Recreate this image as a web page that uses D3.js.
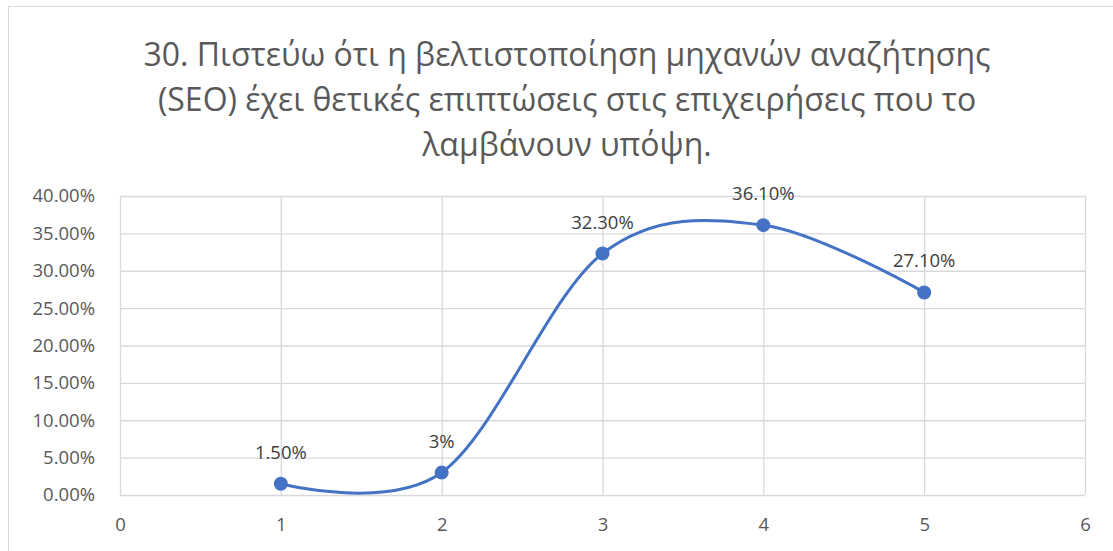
<!DOCTYPE html>
<html lang="el">
<head>
    <meta charset="utf-8">
    <title>SEO chart</title>
    <script src="https://d3js.org/d3.v7.min.js"></script>
    <style type="text/css">
        body { margin: 0; background: #fff; }
        text { font-family: "Open Sans", "Noto Sans", sans-serif; }
    </style>
</head>
<body>
    <div id="chart"></div>
    <script>
        // data
        var titleLines = ["30. Πιστεύω ότι η βελτιστοποίηση μηχανών αναζήτησης",
            "(SEO) έχει θετικές επιπτώσεις στις επιχειρήσεις που το",
            "λαμβάνουν υπόψη."];
        var xValues = [1, 2, 3, 4, 5];
        var yValues = [0.015, 0.03, 0.323, 0.361, 0.271];
        var pointLabels = ["1.50%", "3%", "32.30%", "36.10%", "27.10%"];
        var yTicks = [0, 0.05, 0.10, 0.15, 0.20, 0.25, 0.30, 0.35, 0.40];
        var xTicks = [0, 1, 2, 3, 4, 5, 6];

        var width = 1113, height = 551;
        var margin = { top: 196, right: 28, bottom: 56, left: 120 };

        var svg = d3.select("#chart")
            .append("svg")
            .attr("width", width)
            .attr("height", height);

        // chart frame (cut off on right and bottom)
        svg.append("rect")
            .attr("x", 8.5).attr("y", 6.5)
            .attr("width", 1200).attr("height", 600)
            .attr("fill", "#fff")
            .attr("stroke", "#d9d9d9");

        // title
        svg.append("g").selectAll("text")
            .data(titleLines)
            .enter()
            .append("text")
            .attr("x", 567)
            .attr("y", function (d, i) { return 66 + 45 * i; })
            .attr("text-anchor", "middle")
            .attr("font-size", 32)
            .attr("fill", "#595959")
            .text(function (d) { return d; });

        var x = d3.scaleLinear().domain([0, 6]).range([margin.left, width - margin.right]);
        var y = d3.scaleLinear().domain([0, 0.4]).range([height - margin.bottom, margin.top]);

        // gridlines
        svg.append("g")
            .attr("transform", "translate(" + margin.left + ",0)")
            .call(d3.axisLeft(y).tickValues(yTicks).tickSize(-(x(6) - x(0))).tickFormat(""))
            .call(function (g) { g.select(".domain").remove(); })
            .selectAll("line").attr("stroke", "#d9d9d9").attr("stroke-width", 1.3);

        svg.append("g")
            .attr("transform", "translate(0," + y(0) + ")")
            .call(d3.axisBottom(x).tickValues(xTicks).tickSize(-(y(0) - y(0.4))).tickFormat(""))
            .call(function (g) { g.select(".domain").remove(); })
            .selectAll("line").attr("stroke", "#d9d9d9").attr("stroke-width", 1.3);

        // tick labels
        var yAxis = svg.append("g")
            .attr("transform", "translate(" + (margin.left - 22) + ",0)")
            .call(d3.axisLeft(y).tickValues(yTicks).tickSize(0).tickFormat(d3.format(".2%")));
        yAxis.select(".domain").remove();
        yAxis.selectAll("text").attr("font-size", 18.5).attr("fill", "#595959")
            .style("font-family", "'Open Sans', sans-serif");

        var xAxis = svg.append("g")
            .attr("transform", "translate(0," + (y(0) + 20) + ")")
            .call(d3.axisBottom(x).tickValues(xTicks).tickSize(0).tickFormat(d3.format("d")));
        xAxis.select(".domain").remove();
        xAxis.selectAll("text").attr("font-size", 18.5).attr("fill", "#595959")
            .style("font-family", "'Open Sans', sans-serif");

        // smooth line
        var points = xValues.map(function (d, i) { return [d, yValues[i]]; });
        var line = d3.line()
            .x(function (d) { return x(d[0]); })
            .y(function (d) { return y(d[1]); })
            .curve(d3.curveCardinal.tension(0));

        svg.append("path")
            .datum(points)
            .attr("d", line)
            .attr("fill", "none")
            .attr("stroke", "#4472c4")
            .attr("stroke-width", 3)
            .attr("stroke-linecap", "round");

        svg.selectAll("circle.pt")
            .data(points)
            .enter()
            .append("circle")
            .attr("class", "pt")
            .attr("cx", function (d) { return x(d[0]); })
            .attr("cy", function (d) { return y(d[1]); })
            .attr("r", 7)
            .attr("fill", "#4472c4");

        // data labels
        svg.selectAll("text.lbl")
            .data(points)
            .enter()
            .append("text")
            .attr("class", "lbl")
            .attr("x", function (d) { return x(d[0]); })
            .attr("y", function (d) { return y(d[1]) - 25; })
            .attr("text-anchor", "middle")
            .attr("font-size", 18.5)
            .attr("fill", "#404040")
            .text(function (d, i) { return pointLabels[i]; });
    </script>
</body>
</html>
